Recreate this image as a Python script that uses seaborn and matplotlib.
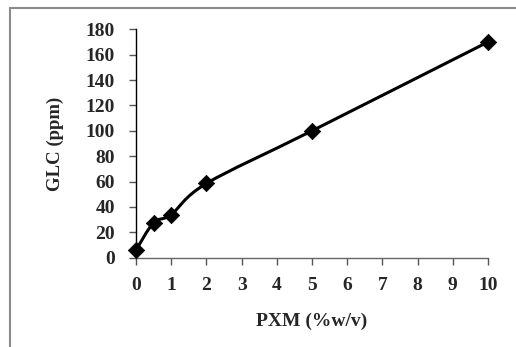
import numpy as np
import pandas as pd
import seaborn as sns
import matplotlib.pyplot as plt
from matplotlib.path import Path
from matplotlib.patches import PathPatch
from matplotlib.lines import Line2D

# values
pxm = [0, 0.5, 1, 2, 5, 10]
glc = [6, 27.5, 34, 58.5, 100, 170]
x_ticks = list(range(0, 11))
y_ticks = list(range(0, 181, 20))


def smooth_path(xs, ys):
    """Catmull-Rom style bezier through the points, like a spreadsheet 'smoothed line'."""
    pts = np.column_stack([xs, ys]).astype(float)
    ext = np.vstack([pts[0], pts, pts[-1]])
    verts = [pts[0]]
    codes = [Path.MOVETO]
    for i in range(1, len(ext) - 2):
        p0, p1, p2, p3 = ext[i - 1], ext[i], ext[i + 1], ext[i + 2]
        c1 = p1 + (p2 - p0) / 6.0
        c2 = p2 - (p3 - p1) / 6.0
        verts += [c1, c2, p2]
        codes += [Path.CURVE4] * 3
    return Path(verts, codes)


def main() -> None:
    sns.set_theme(style="ticks")
    plt.rcParams["font.family"] = ["Liberation Serif", "DejaVu Serif"]
    plt.rcParams["font.weight"] = "bold"

    df = pd.DataFrame({"PXM": pxm, "GLC": glc})

    fig = plt.figure(figsize=(5.16, 3.47), dpi=100)
    ax = fig.add_axes([136 / 516, 1 - 257.7 / 347, 352 / 516, 228.4 / 347])

    ax.add_patch(PathPatch(smooth_path(df["PXM"], df["GLC"]), facecolor="none",
                           edgecolor="black", lw=2.2, capstyle="round", zorder=2))
    sns.scatterplot(data=df, x="PXM", y="GLC", marker="D", s=70, color="black",
                    edgecolor="black", linewidth=0.5, ax=ax, zorder=3, clip_on=False)

    ax.set_xlim(0, 10)
    ax.set_ylim(0, 180)
    ax.set_xticks(x_ticks)
    ax.set_yticks(y_ticks)
    ax.tick_params(axis="both", labelsize=14, length=5, width=1, color="#555555",
                   direction="out")
    ax.tick_params(axis="x", pad=9)
    ax.tick_params(axis="y", pad=10)
    for lab in ax.get_xticklabels() + ax.get_yticklabels():
        lab.set_fontweight("bold")

    ax.set_xlabel("PXM (%w/v)", fontsize=14, fontweight="bold", labelpad=13)
    ax.set_ylabel("GLC (ppm)", fontsize=13.5, fontweight="bold", labelpad=16)

    sns.despine(ax=ax)
    ax.spines["left"].set_color("black")
    ax.spines["left"].set_linewidth(1.0)
    ax.spines["bottom"].set_color("#666666")
    ax.spines["bottom"].set_linewidth(1.0)

    # gray frame edge around the chart area (left and top visible)
    fig.add_artist(Line2D([9.5 / 516, 9.5 / 516], [0, 1 - 8 / 347],
                          transform=fig.transFigure, color="#8c8c8c", lw=1.5))
    fig.add_artist(Line2D([9.5 / 516, 1], [1 - 8 / 347, 1 - 8 / 347],
                          transform=fig.transFigure, color="#8c8c8c", lw=1.5))

    fig.savefig("out.png", dpi=100)


if __name__ == "__main__":
    main()
